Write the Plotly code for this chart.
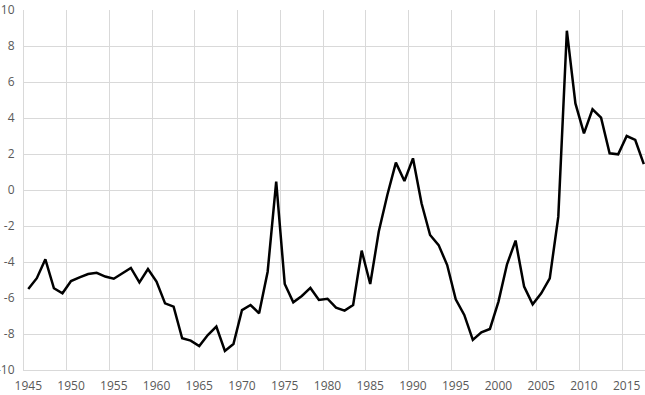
import plotly.graph_objects as go

years = list(range(1945, 2018))
values = [
    -5.5, -4.9, -3.85, -5.46, -5.74, -5.06, -4.85, -4.67, -4.6, -4.81,
    -4.93, -4.63, -4.33, -5.13, -4.39, -5.09, -6.3, -6.48, -8.24, -8.37,
    -8.67, -8.06, -7.59, -8.94, -8.56, -6.67, -6.39, -6.85, -4.54, 0.46,
    -5.22, -6.24, -5.89, -5.44, -6.11, -6.04, -6.54, -6.7, -6.39, -3.37,
    -5.22, -2.31, -0.28, 1.52, 0.5, 1.76, -0.74, -2.5, -3.06, -4.17,
    -6.07, -6.94, -8.33, -7.91, -7.72, -6.2, -4.13, -2.81, -5.37, -6.35,
    -5.74, -4.91, -1.48, 8.85, 4.81, 3.15, 4.48, 4.02, 2.04, 1.98,
    3.0, 2.78, 1.44,
]
x_tick_labels = [str(y) for y in range(1945, 2016, 5)]
y_tick_values = list(range(-10, 11, 2))

grid = "#d9d9d9"
font = dict(family="Open Sans", size=12, color="#595959")

fig = go.Figure()
fig.add_trace(go.Scatter(
    x=years, y=values, mode="lines",
    line=dict(color="#000000", width=2.5),
    showlegend=False, hoverinfo="skip",
))

fig.update_layout(
    template="none",
    width=645, height=395,
    margin=dict(l=24, r=0, t=10, b=25, autoexpand=False),
    paper_bgcolor="white", plot_bgcolor="white",
    font=font,
    xaxis=dict(
        range=[1944.5, 2017.14],
        tickmode="array",
        tickvals=[int(t) for t in x_tick_labels],
        ticktext=x_tick_labels,
        showgrid=False, zeroline=False, ticks="",
        showline=True, linecolor=grid, linewidth=1,
        automargin=False,
        ticklabelstandoff=5,
        minor=dict(
            tickmode="array",
            tickvals=[v + 0.5 for v in range(1944, 2016, 5)],
            showgrid=True, gridcolor=grid, gridwidth=1, ticks="",
        ),
        tickfont=font,
    ),
    yaxis=dict(
        range=[-10, 10],
        tickmode="array",
        tickvals=y_tick_values,
        ticktext=[str(v) for v in y_tick_values],
        showgrid=True, gridcolor=grid, gridwidth=1,
        zeroline=False, ticks="",
        showline=True, linecolor=grid, linewidth=1,
        automargin=False,
        ticklabelstandoff=6,
        tickfont=font,
    ),
)

fig.write_html("out.html")
